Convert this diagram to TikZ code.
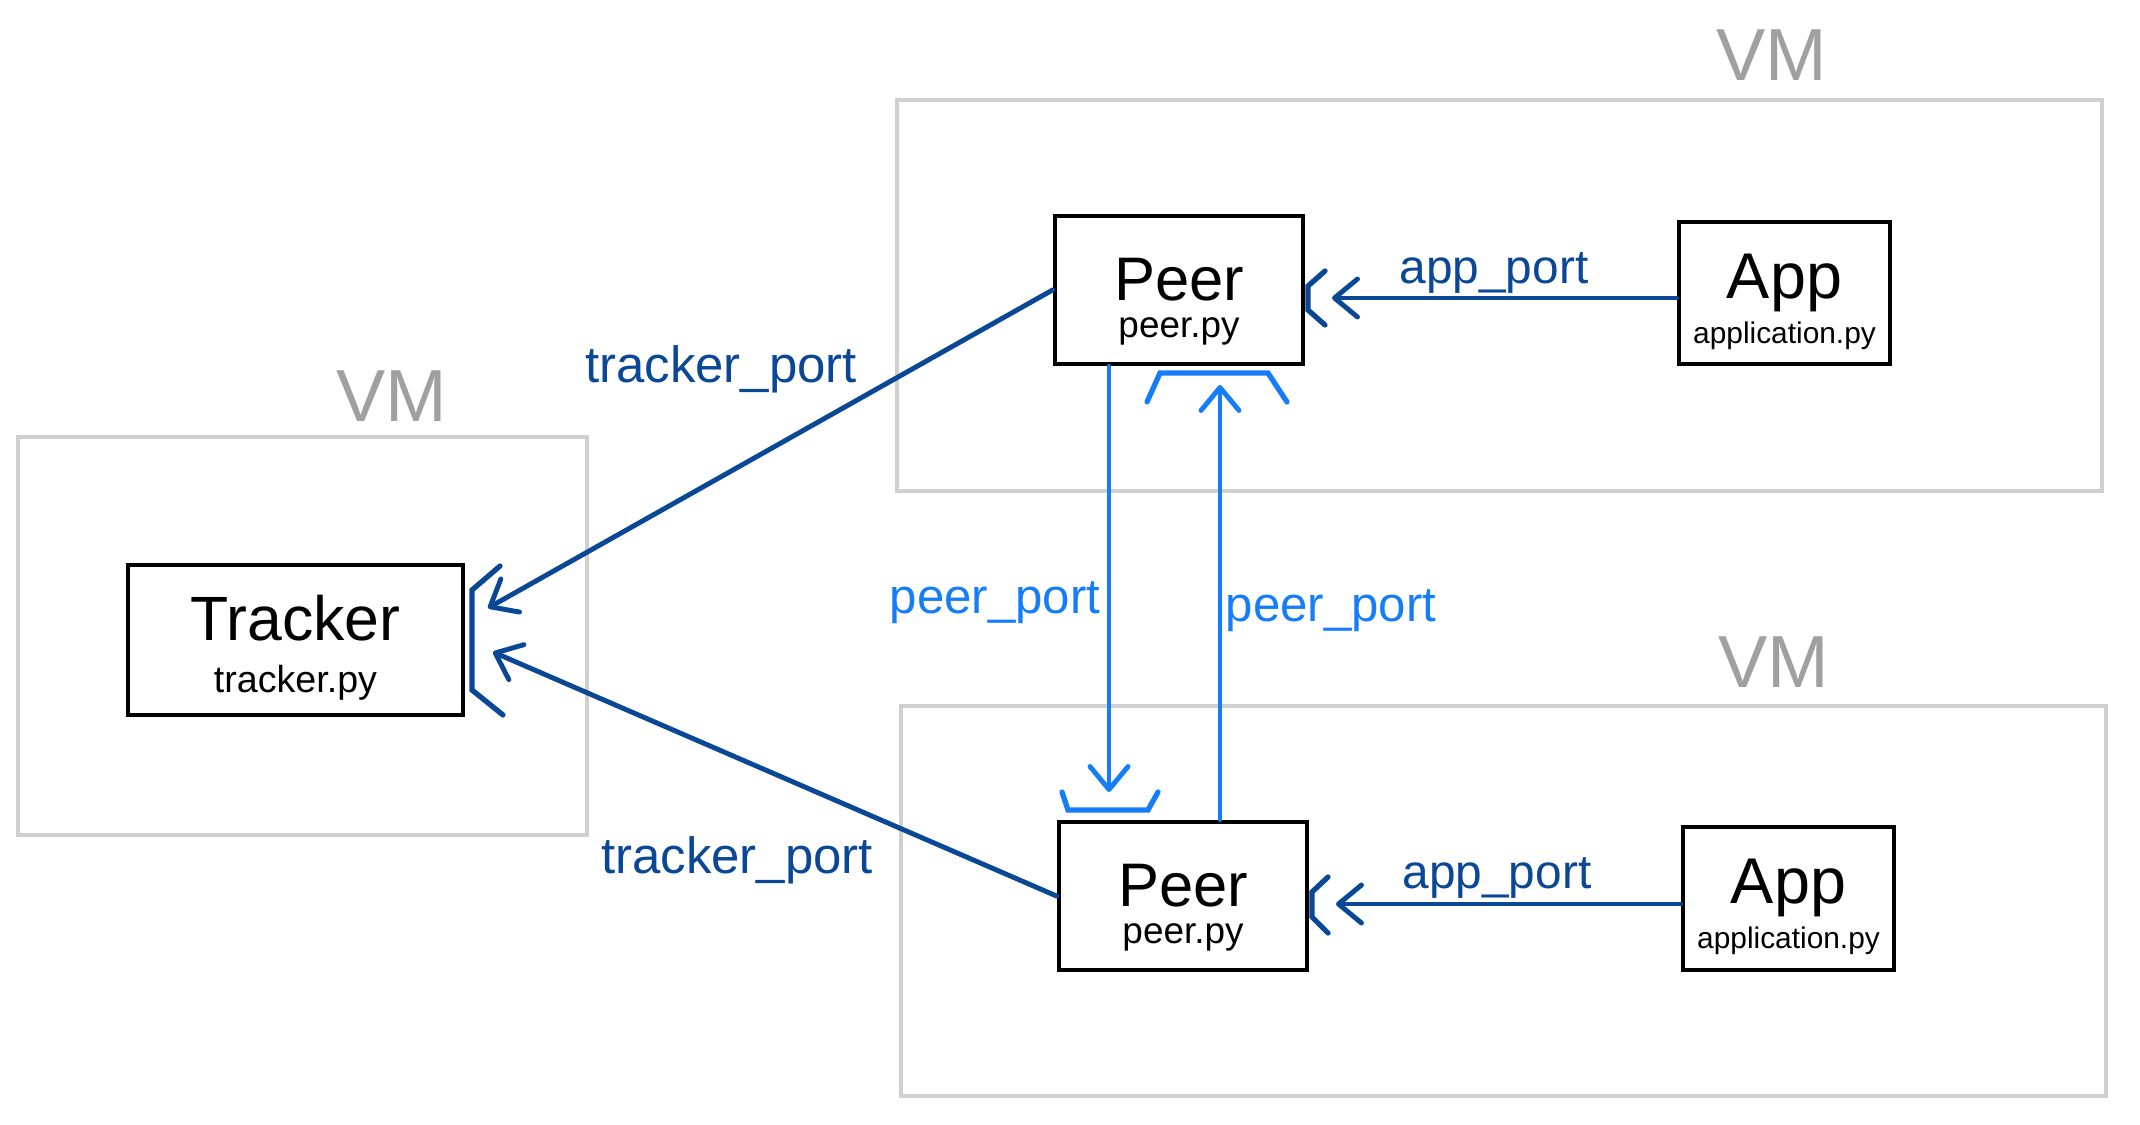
\documentclass[tikz,border=0pt]{standalone}
\usepackage{fontspec}
\setmainfont{Liberation Sans}
\usetikzlibrary{arrows.meta}
\definecolor{portdark}{RGB}{10,72,150}
\definecolor{portlight}{RGB}{22,125,250}
\definecolor{vmgray}{RGB}{208,208,208}
\definecolor{vmtext}{RGB}{160,160,160}
\begin{document}
\begin{tikzpicture}[x=0.1mm,y=-0.1mm,
    vm/.style={draw=vmgray,line width=1pt},
    vmlabel/.style={text=vmtext,font=\fontsize{21}{24}\selectfont},
    proc/.style={draw=black,line width=1.4pt,align=center,inner sep=0pt},
    portlbl/.style={font=\fontsize{14}{16}\selectfont},
    darkline/.style={draw=portdark,line width=1.4pt,line cap=round,
        -{Straight Barb[length=2.3mm,width=3.8mm,round]}},
    lightline/.style={draw=portlight,line width=1.4pt,line cap=round,
        -{Straight Barb[length=2.3mm,width=3.8mm,round]}},
    bracket/.style={line width=1.5pt,line cap=round}]
    \useasboundingbox (0,0) rectangle (2140,1125);
    % virtual machines
    \draw[vm] (18,437) rectangle (587,835);
    \draw[vm] (897,100) rectangle (2102,491);
    \draw[vm] (901,706) rectangle (2106,1096);
    \node[vmlabel] (vmT) at (392,396) {VM};
    \node[vmlabel] (vmA) at (1772,55) {VM};
    \node[vmlabel] (vmB) at (1774,662) {VM};
    % processes
    \node[proc,font=\fontsize{17.8}{11}\selectfont,minimum width=33.5mm,minimum height=15mm]
        (tracker) at (295.5,640)
        {\rule{0pt}{17.1pt}Tracker\\[3.8pt]{\fontsize{10.7}{11}\selectfont tracker.py}};
    \node[proc,font=\fontsize{17.5}{10.5}\selectfont,minimum width=24.8mm,minimum height=14.8mm]
        (peerA) at (1179,290)
        {\rule{0pt}{18.8pt}Peer\\{\fontsize{10.5}{10.5}\selectfont peer.py}};
    \node[proc,font=\fontsize{18.4}{11}\selectfont,minimum width=21.1mm,minimum height=14.2mm]
        (appA) at (1784.5,293)
        {\rule{0pt}{17.6pt}App\\[1.8pt]{\fontsize{8.5}{11}\selectfont application.py}};
    \node[proc,font=\fontsize{17.5}{10.5}\selectfont,minimum width=24.8mm,minimum height=14.8mm]
        (peerB) at (1183,896)
        {\rule{0pt}{18.8pt}Peer\\{\fontsize{10.5}{10.5}\selectfont peer.py}};
    \node[proc,font=\fontsize{18.4}{11}\selectfont,minimum width=21.1mm,minimum height=14.3mm]
        (appB) at (1788.5,898.5)
        {\rule{0pt}{17.6pt}App\\[1.8pt]{\fontsize{8.5}{11}\selectfont application.py}};
    % ports
    \coordinate (trkA) at (488,608);
    \coordinate (trkB) at (493,652);
    \coordinate (appportA) at (1332,298);
    \coordinate (appportB) at (1336,904);
    \coordinate (peerportA) at (1220,385);
    \coordinate (peerportB) at (1109,792);
    \draw[bracket,portdark] (500,566) -- (472,590) -- (472,690) -- (503,715);
    \draw[bracket,portdark] ([shift={(-7,-27)}]appportA) -- ++(-17,15) -- ++(0,24) -- ++(17,15);
    \draw[bracket,portdark] ([shift={(-8,-27)}]appportB) -- ++(-16,15) -- ++(0,25) -- ++(16,16);
    \draw[bracket,portlight] (1147,402) -- (1160,373) -- (1268,373) -- (1287,402);
    \draw[bracket,portlight] (1062,792) -- (1068,810) -- (1148,810) -- (1158,792);
    % connections
    \draw[darkline] (peerA.west) -- (trkA);
    \draw[darkline] (peerB.west) -- (trkB);
    \draw[darkline] (appportA -| appA.west) -- (appportA);
    \draw[darkline] (appportB -| appB.west) -- (appportB);
    \draw[lightline] (peerA.south -| peerportB) -- (peerportB);
    \draw[lightline] (peerB.north -| peerportA) -- (peerportA);
    % port names
    \node[portlbl,font=\fontsize{14.5}{16}\selectfont,text=portdark] (trklblA) at (721,369) {tracker\_port};
    \node[portlbl,font=\fontsize{14.5}{16}\selectfont,text=portdark] (trklblB) at (737,860) {tracker\_port};
    \node[portlbl,font=\fontsize{13.6}{16}\selectfont,text=portdark] (applblA) at (1494,273) {app\_port};
    \node[portlbl,font=\fontsize{13.6}{16}\selectfont,text=portdark] (applblB) at (1497,878) {app\_port};
    \node[portlbl,text=portlight] (peerlblA) at (995,603) {peer\_port};
    \node[portlbl,text=portlight] (peerlblB) at (1331,611) {peer\_port};
\end{tikzpicture}
\end{document}
